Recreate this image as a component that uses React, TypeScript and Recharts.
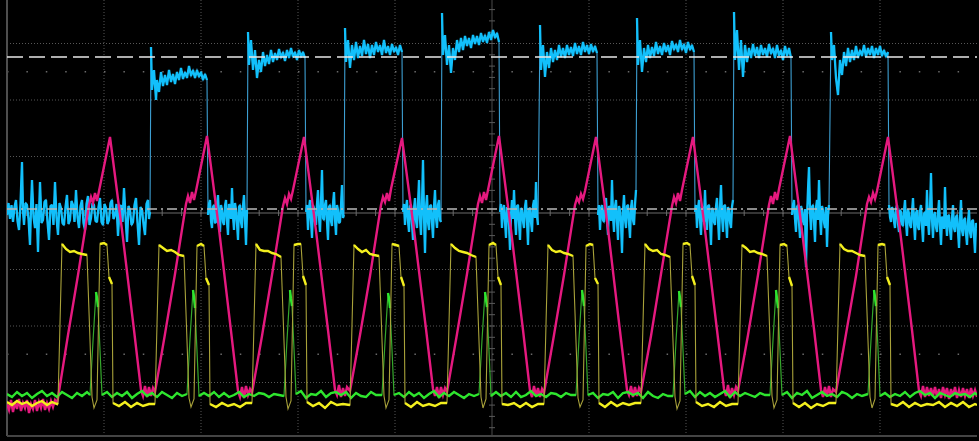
import { LineChart, Line, XAxis, YAxis, ReferenceLine } from 'recharts';

// Screen units: t runs 0..970 (97 per horizontal division), v is 0 on the centre line (56.5 per vertical division)
const DIV_X = 97;
const DIV_Y = 56.5;
const T_MAX = 970;
const V_TOP = 213;
const V_BOTTOM = -223;

// Cyan channel: one flat [t, v, t, v, ...] list per plateau, the edges join them
const BLUE_SEGMENTS: number[][] = [
  [0,-2, 1.5,10, 3,-6, 4.5,8, 6,-9, 7.5,6, 9,13, 10.5,-8, 12,-17, 13.5,9, 15,51, 16,2, 17,-12, 18.5,10, 20,8, 21.5,-6, 23,-32, 24,5, 25,33, 26.5,-4, 28,-15, 29.5,9, 31,-39, 32,-2, 33,31, 34.5,-10, 36,-7, 37.5,11, 39,13, 40.5,-9, 42,-27, 43.5,7, 45,8, 46.5,-12, 48,31, 49.5,-5, 51,-22, 52.5,10, 54,5, 55.5,-10, 57,-12, 58.5,6, 60,18, 61.5,-11, 63,-7, 64.5,12, 66,8, 67.5,-9, 69,23, 70.5,-4, 72,-15, 73.5,7, 75,13, 76.5,-10, 78,-17, 79.5,9, 81,17, 82.5,-12, 84,-5, 85.5,10, 87,8, 88.5,-8, 90,-9, 91.5,6, 93,15, 94.5,-9, 96,-12, 97.5,9, 99,5, 100.5,-11, 102,-7, 103.5,10, 105,13, 106.5,-6, 108,-2, 109.5,9, 111,-23, 112.5,4, 114,8, 115.5,-9, 117,25, 118.5,-3, 120,-29, 121.5,7, 123,3, 124.5,-12, 126,-9, 127.5,8, 129,15, 130.5,-10, 132,-32, 133.5,6, 135,3, 136.5,-11, 138,-22, 139.5,9, 141,13, 142,-6, 143,1],
  [144,166, 145,123, 147,143, 149,113, 150,133, 152,121, 154,141, 156,127, 158,138, 160,128, 162,143, 164,131, 166,139, 168,129, 170,141, 172,133, 174,145, 176,134, 178,141, 180,135, 182,147, 184,137, 186,143, 188,135, 190,143, 192,136, 194,141, 196,133, 198,139, 200,133],
  [201,-2, 202,9, 203,13, 204,-8, 205,-15, 206,6, 207,8, 208,-10, 209,-9, 210,7, 211,18, 212,-5, 213,-19, 214,8, 215,3, 216,-9, 217,-12, 218,7, 219,13, 220,-8, 221,-22, 222,9, 223,5, 224,-6, 225,25, 226,-3, 227,-17, 228,10, 229,3, 230,-10, 231,-27, 232,6, 233,8, 234,-9, 235,-15, 236,7, 237,18, 238,-6, 239,-32, 240,3],
  [241,181, 242,148, 244,173, 246,143, 248,163, 250,135, 252,153, 254,141, 256,161, 258,147, 260,158, 262,149, 264,163, 266,151, 268,160, 270,153, 272,164, 274,155, 276,161, 278,152, 280,163, 282,155, 284,165, 286,156, 288,161, 290,153, 292,163, 294,156, 296,161, 298,155],
  [299,1, 300,8, 301,-17, 302,4, 303,13, 304,-7, 305,-25, 306,8, 307,5, 308,-9, 309,-12, 310,9, 311,23, 312,-4, 313,-19, 314,10, 315,43, 316,-5, 317,-7, 318,8, 319,13, 320,-9, 321,-27, 322,6, 323,8, 324,-8, 325,-13, 326,9, 327,21, 328,-6, 329,-22, 330,8, 331,3, 332,-10, 333,-9, 334,7, 335,28, 336,-5, 337,-2],
  [338,185, 339,151, 341,173, 343,145, 345,168, 347,153, 349,171, 351,155, 353,167, 355,157, 357,173, 359,159, 361,169, 363,155, 365,168, 367,158, 369,171, 371,161, 373,168, 375,158, 377,173, 379,160, 381,167, 383,158, 385,169, 387,161, 389,166, 391,158, 393,168, 395,161],
  [396,1, 397,9, 398,-12, 399,5, 400,13, 401,-8, 402,-19, 403,7, 404,8, 405,-10, 406,-27, 407,4, 408,15, 409,-7, 410,-15, 411,9, 412,33, 413,-6, 414,-22, 415,8, 416,53, 417,-3, 418,-40, 419,5, 420,18, 421,-9, 422,-17, 423,7, 424,8, 425,-9, 426,-25, 427,6, 428,23, 429,-5, 430,-15, 431,8, 432,13, 433,-7, 434,-9],
  [435,200, 436,158, 438,178, 440,148, 442,168, 444,140, 446,165, 448,153, 450,173, 452,161, 454,175, 456,163, 458,177, 460,167, 462,175, 464,165, 466,178, 468,169, 470,177, 472,168, 474,180, 476,171, 478,178, 480,170, 482,181, 484,173, 486,183, 488,175, 490,180, 492,171],
  [493,1, 494,9, 495,-15, 496,3, 497,8, 498,-8, 499,-25, 500,6, 501,3, 502,-11, 503,-37, 504,-2, 505,13, 506,-6, 507,23, 508,-4, 509,-22, 510,7, 511,8, 512,-9, 513,-27, 514,5, 515,3, 516,-8, 517,-15, 518,6, 519,13, 520,-7, 521,-32, 522,4, 523,5, 524,-9, 525,-19, 526,7, 527,13, 528,-5, 529,31, 530,-3, 531,-12],
  [533,188, 534,143, 536,168, 538,136, 540,161, 542,145, 544,165, 546,151, 548,163, 550,153, 552,168, 554,156, 556,165, 558,155, 560,168, 562,158, 564,166, 566,157, 568,170, 570,159, 572,167, 574,158, 576,171, 578,161, 580,168, 582,159, 584,169, 586,161, 588,167, 590,160],
  [591,-2, 592,8, 593,-17, 594,4, 595,8, 596,-7, 597,-9, 598,8, 599,15, 600,-6, 601,-22, 602,7, 603,5, 604,-8, 605,33, 606,-3, 607,-19, 608,6, 609,13, 610,-8, 611,-27, 612,7, 613,3, 614,-9, 615,-40, 616,2, 617,18, 618,-6, 619,-15, 620,7, 621,8, 622,-9, 623,-25, 624,5, 625,13, 626,-7, 627,-12, 628,8, 629,23],
  [630,195, 631,148, 633,173, 635,141, 637,165, 639,151, 641,168, 643,155, 645,166, 647,157, 649,171, 651,159, 653,167, 655,158, 657,170, 659,161, 661,168, 663,158, 665,172, 667,163, 669,169, 671,161, 673,173, 675,163, 677,169, 679,160, 681,171, 683,163, 685,168, 687,161],
  [688,1, 689,8, 690,-15, 691,4, 692,13, 693,-7, 694,-22, 695,6, 696,5, 697,-9, 698,23, 699,-4, 700,-17, 701,7, 702,8, 703,-8, 704,-32, 705,5, 706,3, 707,-9, 708,-12, 709,6, 710,15, 711,-6, 712,-27, 713,5, 714,28, 715,-3, 716,-19, 717,7, 718,8, 719,-8, 720,-25, 721,6, 722,3, 723,-9, 724,-15, 725,6, 726,13],
  [727,201, 728,153, 730,183, 732,143, 734,173, 736,136, 738,168, 740,151, 742,165, 744,155, 746,169, 748,157, 750,166, 752,155, 754,168, 756,158, 758,165, 760,156, 762,169, 764,159, 766,165, 768,155, 770,168, 772,157, 774,163, 776,153, 778,167, 780,157, 782,165, 784,155],
  [785,-2, 786,8, 787,13, 788,-6, 789,-19, 790,6, 791,8, 792,-9, 793,-25, 794,7, 795,3, 796,-8, 797,-12, 798,4, 799,-54, 800,-4, 801,23, 802,46, 803,2, 804,-17, 805,6, 806,8, 807,-8, 808,-29, 809,5, 810,13, 811,-7, 812,33, 813,-2, 814,-22, 815,7, 816,3, 817,-9, 818,-15, 819,6, 820,-34, 821,-3, 822,8],
  [824,181, 825,153, 827,168, 829,135, 831,118, 833,153, 835,138, 837,161, 839,147, 841,165, 843,151, 845,163, 847,153, 849,167, 851,155, 853,163, 855,157, 857,168, 859,156, 861,165, 863,158, 865,167, 867,155, 869,165, 871,158, 873,167, 875,157, 877,163, 879,156, 881,161],
  [882,8, 883,-4, 884,-9, 885,6, 886,3, 887,-8, 888,-15, 889,4, 890,8, 891,-10, 892,-19, 893,3, 894,1, 895,-11, 896,-13, 897,2, 898,13, 899,-9, 900,-23, 901,4, 902,-1, 903,-12, 904,-15, 905,1, 906,15, 907,-10, 908,-27, 909,0, 910,3, 911,-14, 912,-17, 913,2, 914,8, 915,-12, 916,-29, 917,-1, 918,1, 919,-13, 920,23, 921,-8, 922,-22, 923,3, 924,40, 925,-6, 926,-25, 927,-2, 928,1, 929,-14, 930,-19, 931,-1, 932,13, 933,-12, 934,-32, 935,-4, 936,-5, 937,-16, 938,26, 939,-8, 940,-23, 941,-3, 942,-2, 943,-17, 944,-27, 945,-5, 946,8, 947,-15, 948,-19, 949,-4, 950,-2, 951,-18, 952,-35, 953,-6, 954,13, 955,-17, 956,-23, 957,-7, 958,-5, 959,-20, 960,-32, 961,-9, 962,3, 963,-19, 964,-25, 965,-8, 966,-7, 967,-22, 968,-40, 969,-10, 970,-15],
];

// Magenta channel: triangle, one row per cycle, sampled at offsets from each peak
const MAGENTA_PEAKS = [103, 200, 297, 395, 492, 589, 686, 783, 881];
const MAGENTA_OFFSETS = [-52, -42, -32, -21, -19, -17, -15, -13, -11, 0, 12, 24, 31, 33, 35, 37, 39, 41, 43];
const MAGENTA_CYCLES = [
  [-185, -122, -62, 8, 16, 10, 20, 12, 22, 76, -17, -117, -177, -183, -173, -184, -174, -183, -175],
  [-179, -121, -61, 9, 17, 10, 21, 13, 22, 77, -16, -118, -178, -184, -174, -185, -173, -182, -176],
  [-180, -123, -62, 7, 15, 9, 19, 14, 23, 76, -18, -117, -177, -182, -172, -184, -175, -183, -174],
  [-178, -122, -63, 8, 16, 11, 20, 12, 24, 75, -17, -116, -176, -183, -174, -185, -174, -182, -175],
  [-179, -121, -61, 9, 17, 10, 21, 13, 23, 77, -17, -117, -178, -184, -173, -183, -175, -184, -176],
  [-180, -122, -62, 8, 15, 11, 19, 14, 22, 76, -16, -118, -177, -182, -173, -184, -174, -183, -175],
  [-179, -123, -61, 7, 16, 10, 20, 12, 23, 76, -17, -117, -176, -183, -172, -185, -175, -182, -174],
  [-178, -122, -62, 8, 17, 9, 21, 13, 24, 77, -18, -116, -177, -184, -174, -183, -173, -184, -176],
  [-179, -121, -63, 9, 16, 11, 20, 14, 22, 76, -17, -117, -178, -183, -173, -184, -174, -183, -175],
];
const MAGENTA_LEAD = [0,-191, 2,-197, 4,-187, 6,-199, 8,-189, 10,-196, 12,-186, 14,-198, 16,-190, 18,-195, 20,-187, 22,-200, 24,-191, 26,-196, 28,-187, 30,-198, 32,-189, 34,-195, 36,-186, 38,-197, 40,-190, 42,-196, 44,-188, 46,-194, 48,-187, 50,-190];
const MAGENTA_TAIL = [926,-183, 928,-174, 930,-184, 932,-176, 934,-185, 936,-174, 938,-182, 940,-175, 942,-186, 944,-176, 946,-183, 948,-174, 950,-185, 952,-177, 954,-184, 956,-175, 958,-183, 960,-176, 962,-185, 964,-175, 966,-183, 968,-177, 970,-184];

// Yellow channel: wide pulse + narrow pulse per cycle, offsets from each rising edge
const CYCLE_STARTS = [53, 150, 247, 345, 442, 539, 636, 733, 831];
const YELLOW_OFFSETS = [-2, 2, 6, 10, 14, 18, 22, 27, 32, 34, 37, 40, 44, 47, 49, 52, 53, 59, 65, 71, 77, 83, 89];
const YELLOW_GROUPS = [5, 1, 1, 1, 1, 1, 1, 1, 0, 0, 0, 3, 3, 3, 4, 4, 5, 5, 5, 5, 5, 5, 5];
const YELLOW_CYCLES = [
  [-190, -31, -36, -39, -38, -40, -41, -42, -184, -195, -187, -31, -30, -32, -64, -71, -190, -193, -189, -194, -190, -193, -191],
  [-191, -32, -35, -38, -37, -39, -42, -43, -185, -194, -186, -33, -31, -33, -65, -72, -191, -194, -190, -193, -191, -194, -190],
  [-190, -31, -37, -38, -38, -40, -41, -44, -184, -196, -188, -32, -31, -31, -63, -72, -189, -193, -190, -195, -189, -192, -191],
  [-192, -32, -36, -39, -37, -41, -42, -43, -183, -195, -187, -31, -32, -33, -64, -73, -190, -194, -189, -193, -191, -193, -190],
  [-190, -31, -35, -38, -39, -40, -42, -44, -184, -195, -186, -32, -30, -32, -64, -72, -191, -192, -190, -194, -190, -194, -191],
  [-191, -32, -37, -39, -38, -40, -41, -43, -185, -194, -187, -33, -31, -32, -65, -71, -190, -194, -189, -193, -190, -192, -190],
  [-190, -31, -36, -38, -37, -41, -42, -44, -184, -196, -188, -31, -30, -32, -63, -72, -189, -193, -191, -194, -189, -193, -191],
  [-191, -32, -35, -39, -38, -40, -41, -43, -183, -195, -187, -32, -31, -33, -64, -73, -190, -194, -190, -195, -191, -193, -190],
  [-190, -31, -36, -38, -38, -40, -42, -43, -184, -195, -186, -32, -31, -32, -64, -72, -191, -193, -189, -194, -190, -193, -191],
];
const YELLOW_LEAD = [0,-189, 5,-192, 10,-188, 15,-191, 20,-189, 25,-193, 30,-190, 35,-188, 40,-192, 45,-189, 50,-191];
const YELLOW_TAIL = [926,-192, 932,-189, 938,-194, 944,-190, 950,-193, 956,-189, 962,-194, 968,-191, 970,-192];

// Green channel: flat baseline with one short spike per cycle
const GREEN_OFFSETS = [30, 33, 36, 37, 38, 40, 42, 47, 52, 57, 62, 67, 72, 77, 82, 87, 92, 97, 102, 107, 112, 117, 122];
const GREEN_GROUPS = [2, 0, 3, 3, 3, 0, 2, 2, 2, 2, 2, 2, 2, 2, 2, 2, 2, 2, 2, 2, 2, 2, 2];
const GREEN_CYCLES = [
  [-182, -128, -79, -85, -94, -137, -182, -179, -184, -180, -183, -179, -185, -181, -178, -183, -180, -184, -179, -182, -185, -180, -183],
  [-181, -126, -77, -84, -95, -138, -183, -180, -183, -179, -184, -180, -184, -182, -179, -184, -181, -183, -180, -181, -184, -181, -182],
  [-183, -127, -77, -86, -93, -136, -181, -178, -185, -181, -182, -178, -184, -180, -179, -182, -179, -185, -180, -183, -184, -179, -182],
  [-182, -129, -80, -85, -95, -137, -182, -180, -184, -179, -183, -180, -185, -181, -178, -184, -180, -183, -179, -182, -185, -181, -183],
  [-181, -127, -79, -86, -94, -138, -183, -179, -183, -180, -184, -179, -184, -182, -178, -183, -181, -184, -180, -181, -184, -180, -182],
  [-182, -126, -77, -84, -93, -136, -182, -180, -185, -181, -182, -179, -185, -180, -179, -182, -180, -185, -179, -183, -185, -181, -183],
  [-183, -128, -78, -85, -94, -137, -181, -178, -184, -179, -183, -180, -184, -181, -178, -184, -179, -183, -180, -182, -184, -180, -182],
  [-182, -127, -77, -86, -95, -138, -182, -179, -185, -180, -182, -178, -185, -182, -179, -183, -181, -184, -179, -181, -185, -181, -183],
  [-181, -127, -77, -84, -93, -136, -183, -180, -184, -181, -183, -179, -184, -180, -178, -182, -180, -185, -180, -182, -184, -180, -182],
];
const GREEN_LEAD = [0,-181, 5,-184, 10,-179, 15,-183, 20,-180, 25,-185, 30,-181, 35,-178, 40,-183, 45,-180, 50,-184, 55,-179, 60,-182, 65,-185, 70,-180, 75,-183, 80,-179];
const GREEN_TAIL = [958,-181, 963,-184, 968,-180, 970,-182];

// cursors
const CURSOR_A = 156;
const CURSOR_B = 4;

type Pt = { t: number; v: number | null; g?: number };

const fromFlat = (flat: number[], g: number): Pt[] => {
  const out: Pt[] = [];
  for (let i = 0; i < flat.length; i += 2) out.push({ t: flat[i], v: flat[i + 1], g });
  return out;
};

const fromCycles = (starts: number[], offsets: number[], cycles: number[][], groups?: number[]): Pt[] =>
  starts.flatMap((s, k) => offsets.map((o, i) => ({ t: s + o, v: cycles[k][i], g: groups ? groups[i] : 1 })));

// keeps only the slow (bright) parts of a trace, breaking the line between groups
const brightPart = (pts: Pt[]): Pt[] => {
  const out: Pt[] = [];
  let prev = 0;
  pts.forEach(p => {
    const g = p.g ?? 1;
    const last = out[out.length - 1];
    if ((g === 0 || (prev !== 0 && g !== prev)) && last && last.v !== null) out.push({ t: p.t, v: null });
    if (g !== 0) out.push({ t: p.t, v: p.v });
    prev = g;
  });
  return out;
};

const bluePts = BLUE_SEGMENTS.flatMap((s, i) => fromFlat(s, i + 1));
const magentaPts = [
  ...fromFlat(MAGENTA_LEAD, 1),
  ...fromCycles(MAGENTA_PEAKS, MAGENTA_OFFSETS, MAGENTA_CYCLES),
  ...fromFlat(MAGENTA_TAIL, 1),
];
const yellowPts = [
  ...fromFlat(YELLOW_LEAD, 5),
  ...fromCycles(CYCLE_STARTS, YELLOW_OFFSETS, YELLOW_CYCLES, YELLOW_GROUPS),
  ...fromFlat(YELLOW_TAIL, 5),
];
const greenPts = [
  ...fromFlat(GREEN_LEAD, 2),
  ...fromCycles(CYCLE_STARTS, GREEN_OFFSETS, GREEN_CYCLES, GREEN_GROUPS),
  ...fromFlat(GREEN_TAIL, 2),
];

// graticule
const GRID_X = [1, 2, 3, 4, 6, 7, 8, 9].map(k => k * DIV_X);
const GRID_Y = [-3, -2, -1, 1, 2, 3].map(k => k * DIV_Y);
const CENTER_X = 5 * DIV_X;
const MINOR_X = Array.from({ length: 49 }, (_, i) => (i + 1) * DIV_X / 5);
const MINOR_Y = Array.from({ length: 38 }, (_, i) => (i - 19) * DIV_Y / 5);

const GRID = '#575757';

export default function App() {
  return (
    <div style={{ position: 'absolute', left: 0, top: 0, width: 979, height: 441, background: '#000' }}>
      <LineChart width={979} height={441} margin={{ top: 0, right: 2, bottom: 5, left: 7 }}>
        <XAxis type="number" dataKey="t" domain={[0, T_MAX]} hide allowDataOverflow />
        <YAxis type="number" dataKey="v" domain={[V_BOTTOM, V_TOP]} hide allowDataOverflow />

        {GRID_X.map(x => (
          <ReferenceLine key={`gx${x}`} x={x} stroke={GRID} strokeDasharray="1 2" />
        ))}
        {GRID_Y.map(y => (
          <ReferenceLine key={`gy${y}`} y={y} stroke={GRID} strokeDasharray="1 2" />
        ))}
        {[2.5, -2.5].map(k => (
          <ReferenceLine key={`d${k}`} y={k * DIV_Y} stroke="#6a6a6a" strokeWidth={1.5} strokeDasharray={`1.5 ${DIV_X / 5 - 1.5}`} />
        ))}
        <ReferenceLine x={CENTER_X} stroke="#4a4a4a" />
        <ReferenceLine y={0} stroke="#6a6a6a" />
        {MINOR_X.map(x => (
          <ReferenceLine key={`mx${x}`} segment={[{ x, y: -3 }, { x, y: 3 }]} stroke="#6a6a6a" />
        ))}
        {MINOR_Y.map(y => (
          <ReferenceLine key={`my${y}`} segment={[{ x: CENTER_X - 3, y }, { x: CENTER_X + 3, y }]} stroke="#5a5a5a" />
        ))}
        <ReferenceLine x={0} stroke="#4e4e4e" strokeWidth={2} />
        <ReferenceLine y={V_BOTTOM} stroke="#444" strokeWidth={2} />

        <Line data={bluePts} dataKey="v" type="linear" stroke="#3d9fd2" strokeWidth={1.1} dot={false} isAnimationActive={false} />
        <Line data={brightPart(bluePts)} dataKey="v" type="linear" stroke="#12c0fb" strokeWidth={2.3} strokeLinejoin="bevel" dot={false} isAnimationActive={false} />
        <Line data={magentaPts} dataKey="v" type="linear" stroke="#e5197f" strokeWidth={2.4} dot={false} isAnimationActive={false} />
        <Line data={greenPts} dataKey="v" type="linear" stroke="#35a82c" strokeWidth={1.2} dot={false} isAnimationActive={false} />
        <Line data={brightPart(greenPts)} dataKey="v" type="linear" stroke="#2ee52e" strokeWidth={2.4} dot={false} isAnimationActive={false} />
        <Line data={yellowPts} dataKey="v" type="linear" stroke="#a9a23a" strokeWidth={1.1} dot={false} isAnimationActive={false} />
        <Line data={brightPart(yellowPts)} dataKey="v" type="linear" stroke="#f3ef1e" strokeWidth={2.4} dot={false} isAnimationActive={false} />

        <ReferenceLine y={CURSOR_A} stroke="#e8e8e8" strokeWidth={1.5} strokeDasharray="16 6" />
        <ReferenceLine y={CURSOR_B} stroke="#b8b8b8" strokeWidth={1.5} strokeDasharray="10 4 2 4" />
      </LineChart>
    </div>
  );
}
